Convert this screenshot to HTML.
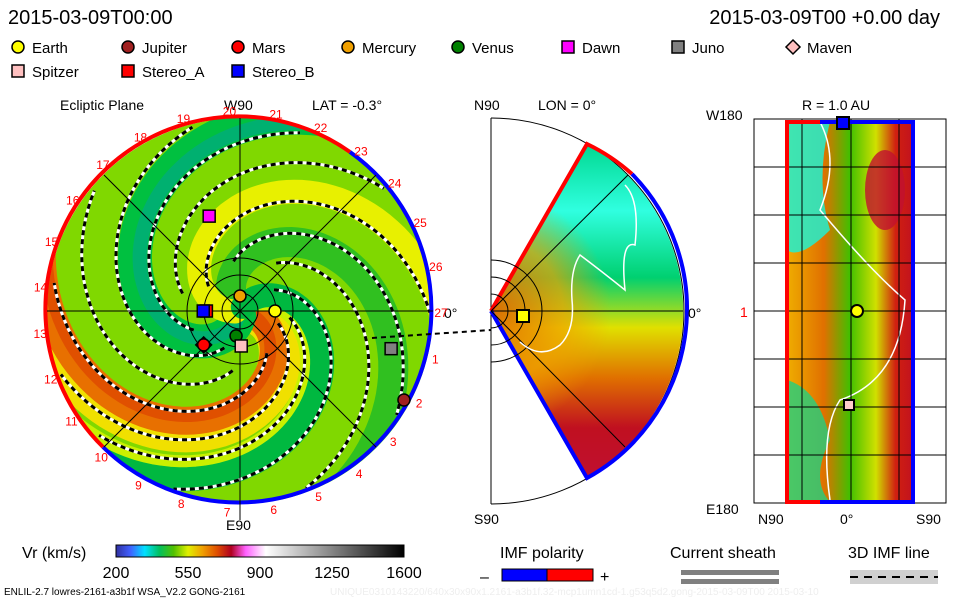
<!DOCTYPE html>
<html><head><meta charset="utf-8"><style>
body{margin:0;background:#fff;width:960px;height:600px;overflow:hidden;font-family:"Liberation Sans",sans-serif}
svg{position:absolute;left:0;top:0}
text{font-family:"Liberation Sans",sans-serif}
</style></head><body>
<svg id="s" width="960" height="600" viewBox="0 0 960 600">
<defs>
<linearGradient id="cb" x1="0" x2="1">
<stop offset="0" stop-color="#3030a0"/><stop offset="0.05" stop-color="#4060ff"/><stop offset="0.1" stop-color="#00e0ff"/><stop offset="0.15" stop-color="#00c060"/><stop offset="0.2" stop-color="#50c000"/><stop offset="0.25" stop-color="#e0f000"/><stop offset="0.3" stop-color="#f0a000"/><stop offset="0.35" stop-color="#e05000"/><stop offset="0.4" stop-color="#b00020"/><stop offset="0.45" stop-color="#ff60ff"/><stop offset="0.52" stop-color="#ffffff"/><stop offset="1" stop-color="#000000"/>
</linearGradient>
<linearGradient id="mid" x1="0" y1="0" x2="0" y2="1">
<stop offset="0" stop-color="#00d890"/><stop offset="0.2" stop-color="#30ffe0"/><stop offset="0.4" stop-color="#00d070"/><stop offset="0.55" stop-color="#e0e000"/><stop offset="0.7" stop-color="#e07000"/><stop offset="0.85" stop-color="#c01020"/><stop offset="1" stop-color="#c01030"/>
</linearGradient>
<radialGradient id="apex" cx="491" cy="311" r="120" gradientUnits="userSpaceOnUse">
<stop offset="0" stop-color="#e06000" stop-opacity="0.9"/><stop offset="0.6" stop-color="#f0a000" stop-opacity="0.7"/><stop offset="1" stop-color="#f0a000" stop-opacity="0"/>
</radialGradient>
<linearGradient id="rp" x1="0" x2="1">
<stop offset="0" stop-color="#f0b000"/><stop offset="0.3" stop-color="#e07000"/><stop offset="0.5" stop-color="#40c000"/><stop offset="0.7" stop-color="#d0e000"/><stop offset="0.85" stop-color="#d02010"/><stop offset="1" stop-color="#c01020"/>
</linearGradient>
<clipPath id="cc"><circle cx="240" cy="311" r="193"/></clipPath>
<clipPath id="wc"><path d="M491 311 L587 144 A193 193 0 0 1 587 478 Z"/></clipPath>
</defs>

<text x="8" y="24" font-size="20">2015-03-09T00:00</text>
<text x="940" y="24" font-size="20" text-anchor="end">2015-03-09T00 +0.00 day</text>
<g id="legend"></g>

<g>
<text x="60" y="110" font-size="14">Ecliptic Plane</text>
<text x="224" y="110" font-size="14">W90</text>
<text x="312" y="110" font-size="14">LAT = -0.3°</text>
<circle cx="240" cy="311" r="193" fill="#80d800"/>
<g id="bands" clip-path="url(#cc)"></g>
<g id="spirals" clip-path="url(#cc)"></g>
<path d="M 103 447 A 193 193 0 0 1 350 152" fill="none" stroke="#f00" stroke-width="4"/>
<path d="M 350 152 A 193 193 0 1 1 103 447" fill="none" stroke="#00f" stroke-width="4"/>
<g stroke="#000" stroke-width="1" fill="none">
<line x1="47" y1="311" x2="433" y2="311"/><line x1="240" y1="118" x2="240" y2="520"/>
<line x1="104" y1="175" x2="376" y2="447"/><line x1="104" y1="447" x2="376" y2="175"/>
<circle cx="240" cy="311" r="18"/><circle cx="240" cy="311" r="36"/><circle cx="240" cy="311" r="53"/>
</g>
<text x="444" y="318" font-size="14">0°</text>
<text x="226" y="530" font-size="14">E90</text>
<g id="carr"></g>
<g id="planets"></g>
<line x1="372" y1="338" x2="491" y2="330" stroke="#000" stroke-width="2" stroke-dasharray="5,4"/>
</g>

<g>
<text x="474" y="110" font-size="14">N90</text>
<text x="538" y="110" font-size="14">LON = 0°</text>
<path d="M491 118 A193 193 0 0 1 491 504" fill="none" stroke="#000" stroke-width="1"/>
<line x1="491" y1="118" x2="491" y2="504" stroke="#000"/>
<path d="M491 311 L587 144 A193 193 0 0 1 587 478 Z" fill="url(#mid)"/>
<circle cx="491" cy="311" r="120" fill="url(#apex)" clip-path="url(#wc)"/>
<path d="M491 311 L587 144 A193 193 0 0 1 632 174" fill="none" stroke="#f00" stroke-width="4"/>
<path d="M632 174 A193 193 0 0 1 587 478 L491 311" fill="none" stroke="#00f" stroke-width="4"/>
<g stroke="#000" fill="none"><line x1="491" y1="311" x2="683" y2="311"/><line x1="491" y1="311" x2="628" y2="175"/><line x1="491" y1="311" x2="625" y2="447"/>
<path d="M491 260 A51 51 0 0 1 491 362"/><path d="M491 277 A34 34 0 0 1 491 345"/><path d="M491 294 A17 17 0 0 1 491 328"/></g>
<path d="M520 342 Q540 360 560 345 Q575 330 572 300 Q570 270 580 255 Q600 270 625 290 Q620 240 635 245 Q640 200 625 185" fill="none" stroke="#fff" stroke-width="1.5"/>
<rect x="517" y="310" width="12" height="12" fill="#ff0" stroke="#000" stroke-width="2"/>
<text x="688" y="318" font-size="14">0°</text>
<text x="474" y="524" font-size="14">S90</text>
</g>

<g>
<text x="802" y="110" font-size="14">R = 1.0 AU</text>
<text x="706" y="120" font-size="14">W180</text>
<text x="706" y="514" font-size="14">E180</text>
<text x="758" y="524" font-size="14">N90</text><text x="840" y="524" font-size="14">0°</text><text x="916" y="524" font-size="14">S90</text>
<text x="740" y="317" font-size="14" fill="#f00">1</text>
<rect x="754" y="119" width="192" height="384" fill="none" stroke="#000"/>
<rect x="785" y="122" width="130" height="380" fill="url(#rp)"/>
<path d="M787 122 L830 122 Q815 180 830 230 Q800 260 787 250 Z" fill="#20f0d0" opacity="0.85"/>
<path d="M787 380 Q820 390 830 440 Q810 480 830 502 L787 502 Z" fill="#20d080" opacity="0.8"/>
<ellipse cx="885" cy="190" rx="20" ry="40" fill="#c01030" opacity="0.8"/>
<path d="M820 122 Q840 160 820 210 Q870 270 905 300 Q900 380 840 400 Q820 430 830 500" fill="none" stroke="#fff" stroke-width="1.5"/>
<g id="grid" stroke="#000" stroke-width="1"></g>
<path d="M820 122 L787 122 L787 502 L820 502" fill="none" stroke="#f00" stroke-width="4"/>
<path d="M820 122 L913 122 L913 502 L820 502" fill="none" stroke="#00f" stroke-width="4"/>
<rect x="837" y="117" width="12" height="12" fill="#00f" stroke="#000" stroke-width="2"/>
<circle cx="857" cy="311" r="6" fill="#ff0" stroke="#000" stroke-width="2"/>
<rect x="844" y="400" width="10" height="10" fill="#fcc" stroke="#000" stroke-width="2"/>
</g>

<g>
<text x="22" y="558" font-size="16">Vr (km/s)</text>
<rect x="116" y="545" width="288" height="12" fill="url(#cb)" stroke="#000"/>
<g id="cbt" font-size="16"></g>
</g>
<g>
<text x="500" y="558" font-size="16">IMF polarity</text>
<text x="480" y="582" font-size="16">–</text>
<rect x="502" y="569" width="45" height="12" fill="#00f" stroke="#000"/><rect x="547" y="569" width="46" height="12" fill="#f00" stroke="#000"/>
<text x="600" y="582" font-size="16">+</text>
</g>
<g>
<text x="670" y="558" font-size="16">Current sheath</text>
<rect x="681" y="570" width="98" height="5" fill="#808080"/><rect x="681" y="579" width="98" height="5" fill="#808080"/>
</g>
<g>
<text x="848" y="558" font-size="16">3D IMF line</text>
<rect x="850" y="570" width="88" height="14" fill="#d0d0d0"/>
<line x1="850" y1="577" x2="938" y2="577" stroke="#000" stroke-width="2" stroke-dasharray="8,6"/>
</g>
<text x="4" y="595" font-size="10">ENLIL-2.7 lowres-2161-a3b1f WSA_V2.2 GONG-2161</text>
<text x="330" y="595" font-size="10" fill="#eee">UNIQUE0310143220/640x30x90x1.2161-a3b1f.32-mcp1umn1cd-1.g53q5d2.gong-2015-03-09T00   2015-03-10</text>
</svg>
<script>
const NS='http://www.w3.org/2000/svg';
function mk(p,t,a){const e=document.createElementNS(NS,t);for(const k in a)e.setAttribute(k,a[k]);p.appendChild(e);return e;}
const legendNames=['Earth','Jupiter','Mars','Mercury','Venus','Dawn','Juno','Maven','Spitzer','Stereo_A','Stereo_B'];
const legendColors=['#ffff00','#a02020','#ff0000','#f0a000','#008000','#ff00ff','#808080','#ffc0c0','#ffc0c0','#ff0000','#0000ff'];
const legendShapes=['c','c','c','c','c','s','s','d','s','s','s'];
// planet positions: angle deg (screen, 0=right, clockwise positive), radius in AU
const planetAngles=[0,28.5,137,-90,99,-108,14,137,88,180,180];
const planetRadii=[1.0,5.33,1.42,0.43,0.72,2.85,4.45,1.42,1.0,0.96,1.05];
const cbTicks=['200','550','900','1250','1600'];
const carrLabels=['20','21','22','23','24','25','26','27','1','2','3','4','5','6','7','8','9','10','11','12','13','14','15','16','17','18','19'];
const spiralOffsets=[-20,10,40,75,110,140,180,215,250,290,320];
const L=document.getElementById('legend');
legendNames.forEach((n,i)=>{
  const col=i<8?i:i-8,row=i<8?0:1,x=12+col*110+(col>=6?(col-6)*5:0),y=48+row*24;
  const g=mk(L,'g',{});
  
  
  if(legendShapes[i]==='c')mk(g,'circle',{cx:x+6,cy:y-1,r:6,fill:legendColors[i],stroke:'#000','stroke-width':1.5});
  else if(legendShapes[i]==='s')mk(g,'rect',{x:x,y:y-7,width:12,height:12,fill:legendColors[i],stroke:'#000','stroke-width':1.5});
  else mk(g,'path',{d:`M${x+6} ${y-8}L${x+13} ${y-1}L${x+6} ${y+6}L${x-1} ${y-1}Z`,fill:legendColors[i],stroke:'#000','stroke-width':1.5});
  const t=mk(g,'text',{x:x+20,y:y+5,'font-size':15});t.textContent=n;
});
const cx=240,cy=311,R=193,AU=35;
function spiral(phi0,r0,r1){let d='';for(let r=r0;r<=r1;r+=3){const a=(phi0+r*0.95)*Math.PI/180;d+=(d?'L':'M')+(cx+r*Math.cos(a)).toFixed(1)+' '+(cy+r*Math.sin(a)).toFixed(1);}return d;}
const B=document.getElementById('bands');
[[ -10,44,'#f0e000'],[0,28,'#e87000'],[5,12,'#e05000'],[ -45,18,'#c8f000'],[95,34,'#00c040'],[100,14,'#00b070'],[225,30,'#30c020'],[170,24,'#e8f000'],[300,24,'#00b840']].forEach(([p,w,c])=>{
  mk(B,'path',{d:spiral(p,5,320),fill:'none',stroke:c,'stroke-width':w,'stroke-linecap':'round'});
});
const S=document.getElementById('spirals');
spiralOffsets.forEach((p,i)=>{
  const g=mk(S,'path',{d:spiral(p,40+(i%3)*10,190),fill:'none',stroke:'#fff','stroke-width':3});
  
  
  mk(S,'path',{d:spiral(p,40+(i%3)*10,190),fill:'none',stroke:'#000','stroke-width':3,'stroke-dasharray':'5,4'});
});
const C=document.getElementById('carr');
carrLabels.forEach((l,i)=>{const a=(-93+i*360/27)*Math.PI/180;const t=mk(C,'text',{x:cx+(R+8)*Math.cos(a),y:cy+(R+8)*Math.sin(a)+5,'font-size':12,fill:'#f00','text-anchor':'middle'});t.textContent=l;});
const P=document.getElementById('planets');
const order=[7,0,1,2,3,4,5,6,8,9,10];
order.forEach(i=>{
  const a=planetAngles[i];
  const r=Math.min(planetRadii[i]*AU,R);const ar=a*Math.PI/180;const x=cx+r*Math.cos(ar),y=cy+r*Math.sin(ar);
  let e;
  if(legendShapes[i]==='c')e=mk(P,'circle',{cx:x,cy:y,r:6,fill:legendColors[i],stroke:'#000','stroke-width':1.5});
  else if(legendShapes[i]==='s')e=mk(P,'rect',{x:x-6,y:y-6,width:12,height:12,fill:legendColors[i],stroke:'#000','stroke-width':1.5});
  else e=mk(P,'path',{d:`M${x} ${y-9}L${x+9} ${y}L${x} ${y+9}L${x-9} ${y}Z`,fill:'#000'});
  
  
});
const T=document.getElementById('cbt');
cbTicks.forEach((t,i)=>{const e=mk(T,'text',{x:116+i*72,y:578,'text-anchor':'middle'});e.textContent=t;});
const G=document.getElementById('grid');
[802,851,899].forEach(x=>mk(G,'line',{x1:x,y1:119,x2:x,y2:503}));
[167,215,263,311,359,407,455].forEach(y=>mk(G,'line',{x1:754,y1:y,x2:946,y2:y}));
</script>
</body></html>
